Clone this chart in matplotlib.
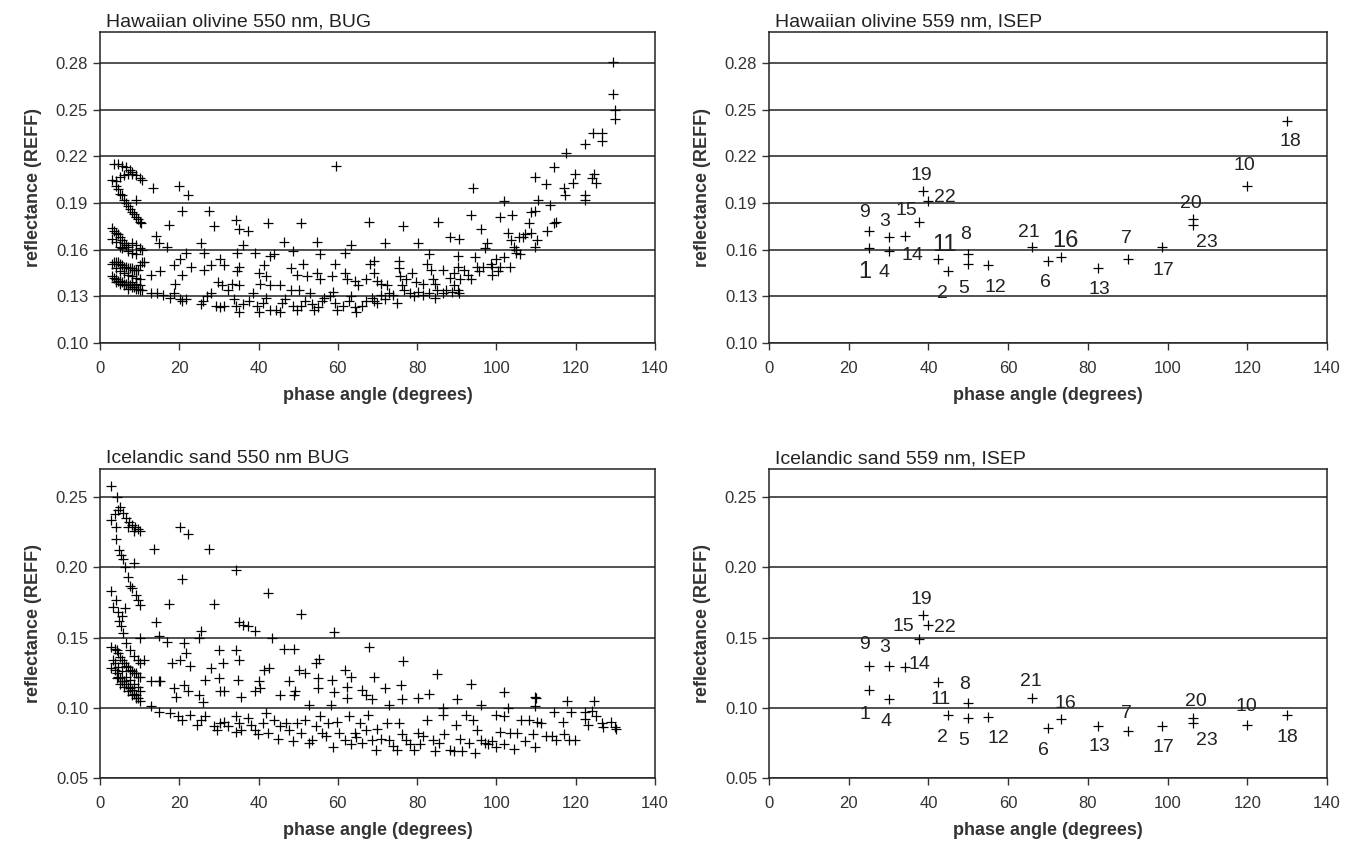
import matplotlib
matplotlib.use("Agg")
import matplotlib.pyplot as plt
import numpy as np

plt.rcParams['font.family'] = ['Liberation Sans', 'DejaVu Sans']

# ---- BUG goniometer data, (phase angle, REFF)
olivine_bug_low = [
    (3.5, .215), (4.5, .215), (5.5, .214), (6.5, .213), (7.5, .211), (8, .209), (9, .208), (10, .206), (10.5, .205),
    (3, .205), (4, .204), (5, .207), (6, .208), (7, .209), (8, .210),
    (4, .201), (4.5, .199), (5, .196), (5.5, .195), (6, .192), (6.5, .190), (7, .188), (7.5, .186), (8, .184),
    (8.5, .183), (9, .181), (9.5, .180), (10, .178), (10.3, .177), (9, .192),
    (3, .174), (3.5, .172), (4, .171), (4.5, .170), (5, .168), (5.5, .166), (6, .164), (6.5, .163), (7, .162),
    (8, .164), (9, .163), (10, .161), (10.5, .160), (3, .167), (4, .165), (5, .162), (5.5, .161), (7, .159),
    (8, .158), (9, .157),
    (3, .151), (3.5, .152), (4, .152), (4.5, .152), (5, .151), (5.5, .150), (6, .149), (6.5, .149), (7, .148),
    (7.5, .148), (8, .148), (8.5, .147), (9, .147), (9.5, .147), (10, .150), (10.5, .152), (11, .152),
    (4, .148), (5, .146), (6, .145), (7, .144), (8, .143), (9, .142), (10, .141),
    (3, .143), (3.5, .142), (4, .141), (4.5, .140), (5, .140), (5.5, .139), (6, .138), (6.5, .138), (7, .137),
    (7.5, .137), (8, .136), (8.5, .136), (9, .135), (9.5, .135), (10, .134), (10.5, .134),
    (4, .139), (5, .138), (6, .137), (7, .135), (8, .139), (9, .138), (10, .137),
]
olivine_bug_high = [
    (13.4, .200), (20, .201), (20.6, .185), (22.3, .195), (27.6, .185), (28.8, .175), (17.4, .176), (14.1, .169),
    (15, .164), (16.9, .162), (25.5, .164), (26.2, .158), (34.4, .179), (35.1, .173), (37.3, .172), (36.1, .163),
    (42.4, .177), (50.6, .177), (46.3, .165), (54.8, .165), (59.6, .214), (67.9, .178), (71.9, .164), (76.5, .175),
    (85.2, .178), (80.3, .164), (63.4, .163), (94.2, .200), (93.7, .182), (88.4, .168), (90.5, .167), (96.1, .173),
    (100.8, .181), (101.9, .191), (103.9, .182), (109.7, .207), (112.6, .202), (114.5, .213), (113.6, .189),
    (110.6, .192), (117.6, .222), (122.3, .228), (124.4, .235), (126.6, .235), (126.6, .230), (124.7, .209),
    (125, .203), (124.2, .206), (119.8, .209), (119.4, .203), (117, .200), (117.3, .195), (122.3, .195),
    (122.3, .192), (129.3, .281), (129.3, .260), (130, .250), (129.8, .244), (112.8, .172), (114.5, .177),
    (115, .178), (108.7, .184), (109.7, .185), (108.2, .177), (107.3, .170), (108.7, .171), (110.2, .166),
    (109.7, .162), (102.9, .171), (103.7, .166), (104.4, .162), (104.9, .160), (106, .157), (103.5, .149),
    (101.9, .155), (104.9, .158), (105.8, .168), (106.8, .168),
]
olivine_bug_mid = [
    (18.7, .150), (20.1, .154), (21.6, .158), (20.8, .144), (18.8, .138), (23.0, .149), (15.1, .146), (12.9, .144),
    (26.3, .147), (27.9, .150), (30.3, .154), (31.3, .150), (29.8, .139), (30.8, .137), (34.5, .158), (35.1, .149),
    (34.5, .146), (33.2, .138), (35.1, .137), (39.2, .158), (41.4, .150), (40.0, .145), (41.9, .143), (42.9, .156),
    (43.8, .157), (42.9, .137), (40.4, .138), (45.3, .137), (48.7, .159), (48.2, .148), (49.7, .144), (51.1, .151),
    (50.1, .134), (52.1, .143), (54.8, .145), (55.5, .141), (55.5, .157), (58.4, .143), (59.3, .151), (61.8, .158),
    (61.8, .145), (62.2, .141), (64.2, .140), (65.2, .137), (67.1, .141), (68.0, .151), (69.0, .153), (69.2, .145),
    (69.9, .140), (70.9, .138), (72.4, .137), (75.3, .153), (75.3, .148), (75.8, .143), (76.3, .137), (77.2, .141),
    (78.7, .145), (79.7, .139), (81.6, .138), (82.6, .151), (83.1, .157), (83.5, .147), (84.0, .141), (84.5, .138),
    (86.4, .147), (88.4, .142), (89.4, .145), (90.4, .149), (90.8, .141), (89.4, .137), (90.4, .156), (91.8, .147),
    (92.8, .144), (93.7, .141), (94.7, .155), (95.2, .149), (95.7, .146), (96.6, .149), (97.1, .161), (97.6, .164),
    (98.6, .151), (99.0, .149), (99.0, .144), (100, .154), (100.5, .146), (101, .149),
]
olivine_bug_floor = [
    (12.9, .132), (14.3, .132), (15.8, .131), (17.7, .129), (18.7, .132), (20.1, .128), (20.8, .127), (21.6, .128),
    (25.5, .125), (26.0, .127), (27.0, .130), (27.9, .132), (29.3, .124), (30.3, .123), (31.3, .124), (32.3, .134),
    (33.7, .128), (34.2, .124), (35.1, .120), (36.1, .125), (37.6, .127), (38.5, .132), (39.5, .124), (40.0, .120),
    (41.0, .126), (41.9, .129), (42.9, .121), (44.3, .121), (45.3, .120), (45.8, .126), (46.7, .128), (48.2, .134),
    (48.7, .124), (49.7, .121), (50.6, .124), (51.6, .127), (53.0, .132), (53.5, .125), (54.0, .121), (55.0, .123),
    (55.9, .127), (56.4, .129), (57.9, .130), (58.8, .133), (59.3, .126), (59.9, .121), (61.3, .124), (62.7, .127),
    (63.2, .130), (64.2, .123), (64.7, .120), (66.1, .124), (67.1, .127), (68.5, .129), (69.0, .127), (69.9, .126),
    (70.9, .131), (71.9, .128), (72.9, .132), (73.9, .131), (74.8, .126), (76.8, .134), (78.2, .132), (79.2, .130),
    (80.2, .133), (81.6, .131), (83.1, .132), (84.5, .129), (85.0, .134), (86.4, .132), (87.4, .134), (88.8, .133),
    (90.4, .134), (90.5, .132),
]

sand_bug_low = [
    (2.9, .258), (4.2, .250), (2.9, .234), (3.7, .238), (4.6, .241), (5.1, .243), (5.9, .239), (6.6, .235),
    (7.3, .232), (8.0, .230), (8.8, .229), (9.5, .227), (10, .226), (7.1, .229), (8.5, .226), (4.0, .229),
    (4.0, .220), (4.9, .212), (5.3, .209), (5.9, .206), (6.3, .200), (7.1, .193), (7.6, .187), (8.0, .185),
    (8.6, .203), (9.0, .180), (9.5, .177), (10, .173),
    (2.9, .183), (3.2, .172), (4.0, .177), (4.6, .168), (4.9, .162), (5.3, .158), (5.9, .153), (6.6, .146),
    (7.6, .141), (8.5, .137), (9.5, .134), (10.2, .132), (6.3, .171), (5.6, .165), (10.2, .150), (11.1, .134),
    (2.7, .143), (3.2, .134), (2.9, .128), (3.7, .142), (4.2, .141), (4.6, .139), (5.1, .136), (5.6, .134),
    (6.1, .132), (6.6, .130), (7.1, .129), (7.6, .127), (8.0, .126), (8.5, .125), (9.0, .125), (9.5, .122),
    (10, .122), (3.7, .127), (4.2, .125), (4.6, .122), (5.1, .121), (5.6, .119), (6.1, .119), (6.6, .117),
    (7.1, .115), (7.6, .114), (8.0, .113), (8.5, .110), (9.0, .109), (9.5, .107), (10, .105),
    (3.7, .132), (4.6, .129), (5.6, .126), (6.6, .122), (7.6, .120), (8.5, .117), (9.5, .115), (10, .112),
    (4.2, .121), (5.1, .117), (6.1, .115), (7.1, .112), (8.0, .109), (9.0, .107),
]
sand_bug_high = [
    (13.6, .213), (20.1, .229), (22.1, .224), (27.4, .213), (20.6, .192), (34.2, .198), (42.4, .182), (50.6, .167),
    (59.1, .154), (67.9, .143), (76.5, .133), (85.0, .124), (93.5, .117), (101.9, .111), (109.9, .107),
    (117.7, .105), (124.7, .105), (14.1, .161), (17.4, .174), (28.8, .174), (15.0, .151), (16.9, .147),
    (25.5, .155), (24.9, .150), (21.1, .146), (21.6, .139), (18.2, .132), (20.1, .134), (22.7, .130),
    (12.9, .119), (15, .119), (15.1, .119), (18.7, .114), (19.2, .108), (21.1, .116), (22.1, .112), (24.9, .109),
    (25.9, .104), (26.6, .120), (27.9, .128), (30.1, .141), (31.1, .132), (30.1, .121), (30.3, .112), (31.3, .112),
    (34.4, .141), (35.1, .134), (34.7, .120), (35.6, .108), (35.1, .161), (36.1, .159), (37.3, .158), (39.2, .155),
    (39.0, .112), (40.0, .119), (40.4, .114), (41.4, .127), (42.7, .128), (43.4, .150), (45.3, .109), (46.3, .142),
    (48.9, .142), (47.7, .119), (48.9, .109), (50.1, .127), (51.6, .125), (49.2, .112), (52.6, .102), (54.5, .132),
    (55.3, .135), (55, .121), (55, .114), (58.4, .120), (59.1, .111), (58.3, .102), (61.8, .127), (62.2, .115),
    (63.4, .122), (62.2, .107), (66.1, .113), (67.1, .109), (69.0, .122), (68.5, .106), (71.9, .114), (72.9, .102),
    (75.9, .116), (76.3, .106), (80.2, .107), (83.1, .110), (86.4, .100), (90.1, .106), (96.1, .102), (99.8, .095),
    (102.9, .100), (109.7, .108), (114.5, .097), (116.9, .090), (118.8, .097), (122.3, .097), (122.3, .092),
    (123.2, .088), (124.2, .098), (125, .094), (126.6, .089), (126.8, .086), (129.0, .090), (129.8, .086),
    (130.2, .085),
]
sand_bug_floor = [
    (12.9, .101), (14.8, .097), (17.7, .096), (19.8, .094), (20.6, .091), (22.6, .095), (24.5, .088), (25.5, .091),
    (26.4, .094), (28.8, .087), (29.4, .084), (30.3, .089), (31.3, .090), (32.2, .087), (34.2, .094), (34.4, .083),
    (35.1, .089), (35.6, .084), (37.4, .093), (38.0, .088), (39.0, .084), (39.8, .081), (41.0, .089), (41.9, .096),
    (42.4, .082), (43.9, .091), (44.8, .078), (45.3, .087), (46.8, .089), (47.7, .084), (48.7, .076), (49.7, .089),
    (50.6, .082), (51.6, .091), (52.6, .075), (53.5, .077), (54.5, .087), (55.5, .094), (56.0, .082), (56.9, .080),
    (57.4, .089), (58.8, .072), (59.9, .090), (60.3, .082), (61.8, .077), (62.7, .094), (63.3, .074), (64.2, .082),
    (64.7, .079), (65.6, .089), (66.1, .075), (67.1, .084), (67.6, .095), (68.5, .077), (69.5, .070), (69.9, .085),
    (70.9, .078), (72.4, .089), (72.9, .077), (73.9, .073), (74.8, .070), (75.3, .089), (76.3, .081), (77.2, .077),
    (78.2, .074), (79.2, .070), (80.2, .082), (80.6, .074), (81.6, .080), (82.6, .091), (84.0, .077), (84.5, .069),
    (85.5, .075), (86.4, .095), (86.9, .081), (88.4, .070), (89.4, .069), (89.8, .088), (90.8, .078), (91.3, .069),
    (92.3, .095), (93.2, .075), (94.2, .091), (94.7, .068), (95.2, .084), (96.1, .077), (97.1, .075), (98.0, .074),
    (99.0, .076), (100.0, .072), (101.0, .083), (101.9, .074), (103.4, .082), (104.4, .071), (105.3, .082),
    (106.3, .091), (107.3, .076), (108.2, .091), (109.2, .081), (109.7, .072), (110.2, .090), (111.3, .089),
    (112.6, .080), (114.1, .080), (115.1, .077), (117.0, .081), (118.4, .077), (119.8, .077), (109.7, .101),
    (101.9, .094),
]

# ---- ISEP data: sample number, phase angle, REFF
isep_ids = ['9', '1', '3', '4', '14', '15', '19', '22', '11', '2', '8', '5',
            '12', '21', '6', '16', '13', '7', '17', '20', '23', '10', '18']
isep_phase = [25, 25, 30, 30, 34, 37.6, 38.6, 40, 42.3, 45, 50, 50,
              55, 66, 70, 73.3, 82.6, 90, 98.6, 106.3, 106.3, 120, 130]
olivine_isep = [0.172, 0.161, 0.168, 0.159, 0.169, 0.178, 0.198, 0.191, 0.154, 0.146, 0.157, 0.151,
                0.150, 0.162, 0.153, 0.155, 0.148, 0.154, 0.162, 0.180, 0.176, 0.201, 0.243]
sand_isep = [0.130, 0.113, 0.130, 0.106, 0.129, 0.149, 0.166, 0.159, 0.118, 0.0948, 0.1035, 0.0927,
             0.0932, 0.107, 0.0856, 0.0922, 0.0873, 0.0833, 0.0873, 0.0925, 0.0892, 0.0877, 0.0948]

# label offsets in points (x right, y up) for the numbers next to the ISEP marks
off_top = {'9': (-3, 13), '1': (-3, -17), '3': (-3, 11), '4': (-3, -15), '14': (6, -14), '15': (-9, 8),
           '19': (-1, 11), '22': (12, 3), '11': (5, 10), '2': (-4, -16), '8': (-2, 14), '5': (-3, -18),
           '12': (5, -16), '21': (-2, 10), '6': (-2, -16), '16': (3, 12), '13': (1, -15), '7': (-1, 15),
           '17': (1, -17), '20': (-1, 11), '23': (10, -13), '10': (-2, 15), '18': (2, -15)}
off_bot = {'9': (-3, 15), '1': (-3, -18), '3': (-3, 13), '4': (-2, -16), '14': (11, 2), '15': (-11, 9),
           '19': (-1, 11), '22': (12, -2), '11': (2, -12), '2': (-4, -16), '8': (-3, 13), '5': (-3, -16),
           '12': (7, -15), '21': (-1, 12), '6': (-3, -16), '16': (3, 11), '13': (1, -15), '7': (-1, 13),
           '17': (1, -16), '20': (2, 12), '23': (10, -13), '10': (-1, 13), '18': (0, -16)}
big_top = {'1', '11', '16'}

W, H = 1353, 852
fig = plt.figure(figsize=(W / 100, H / 100), dpi=100)


def make_ax(l, r, t, b):
    return fig.add_axes([l / W, 1 - b / H, (r - l) / W, (b - t) / H])


ax_tl = make_ax(100, 655, 32, 343)
ax_tr = make_ax(769, 1327, 32, 343)
ax_bl = make_ax(100, 655, 469, 778)
ax_br = make_ax(769, 1327, 469, 778)

mk = dict(marker='+', ls='none', color='black', ms=7, mew=0.9)


def style(ax, title, yticks, ylim):
    ax.set_xlim(0, 140)
    ax.set_xticks(np.arange(0, 141, 20))
    ax.set_ylim(*ylim)
    ax.set_yticks(yticks)
    ax.set_yticklabels(['%.2f' % v for v in yticks])
    ax.yaxis.grid(True, color='#222222', lw=1.1)
    ax.set_axisbelow(True)
    ax.tick_params(direction='out', length=5, width=1, labelsize=12, colors='#333333', labelcolor='#333333')
    ax.tick_params(axis='x', pad=8)
    for s in ax.spines.values():
        s.set_color('#222222')
        s.set_linewidth(1.1)
    ax.set_xlabel('phase angle (degrees)', fontsize=13, fontweight='bold', color='#333333', labelpad=8)
    ax.set_ylabel('reflectance (REFF)', fontsize=13, fontweight='bold', color='#333333', labelpad=10)
    ax.set_title(title, loc='left', fontsize=14, color='#222222', pad=4, x=0.01)


top_ticks = [0.10, 0.13, 0.16, 0.19, 0.22, 0.25, 0.28]
bot_ticks = [0.05, 0.10, 0.15, 0.20, 0.25]

for grp in (olivine_bug_low, olivine_bug_high, olivine_bug_mid, olivine_bug_floor):
    a = np.array(grp)
    ax_tl.plot(a[:, 0], a[:, 1], **mk)
style(ax_tl, 'Hawaiian olivine 550 nm, BUG', top_ticks, (0.10, 0.30))

for grp in (sand_bug_low, sand_bug_high, sand_bug_floor):
    a = np.array(grp)
    ax_bl.plot(a[:, 0], a[:, 1], **mk)
style(ax_bl, 'Icelandic sand 550 nm BUG', bot_ticks, (0.05, 0.27))

ax_tr.plot(isep_phase, olivine_isep, **mk)
for lab, x, y in zip(isep_ids, isep_phase, olivine_isep):
    ax_tr.annotate(lab, (x, y), xytext=off_top[lab], textcoords='offset points', ha='center', va='center',
                   fontsize=17 if lab in big_top else 14, color='#222222')
style(ax_tr, 'Hawaiian olivine 559 nm, ISEP', top_ticks, (0.10, 0.30))

ax_br.plot(isep_phase, sand_isep, **mk)
for lab, x, y in zip(isep_ids, isep_phase, sand_isep):
    ax_br.annotate(lab, (x, y), xytext=off_bot[lab], textcoords='offset points', ha='center', va='center',
                   fontsize=14, color='#222222')
style(ax_br, 'Icelandic sand 559 nm, ISEP', bot_ticks, (0.05, 0.27))

fig.savefig('out.png', dpi=100)
